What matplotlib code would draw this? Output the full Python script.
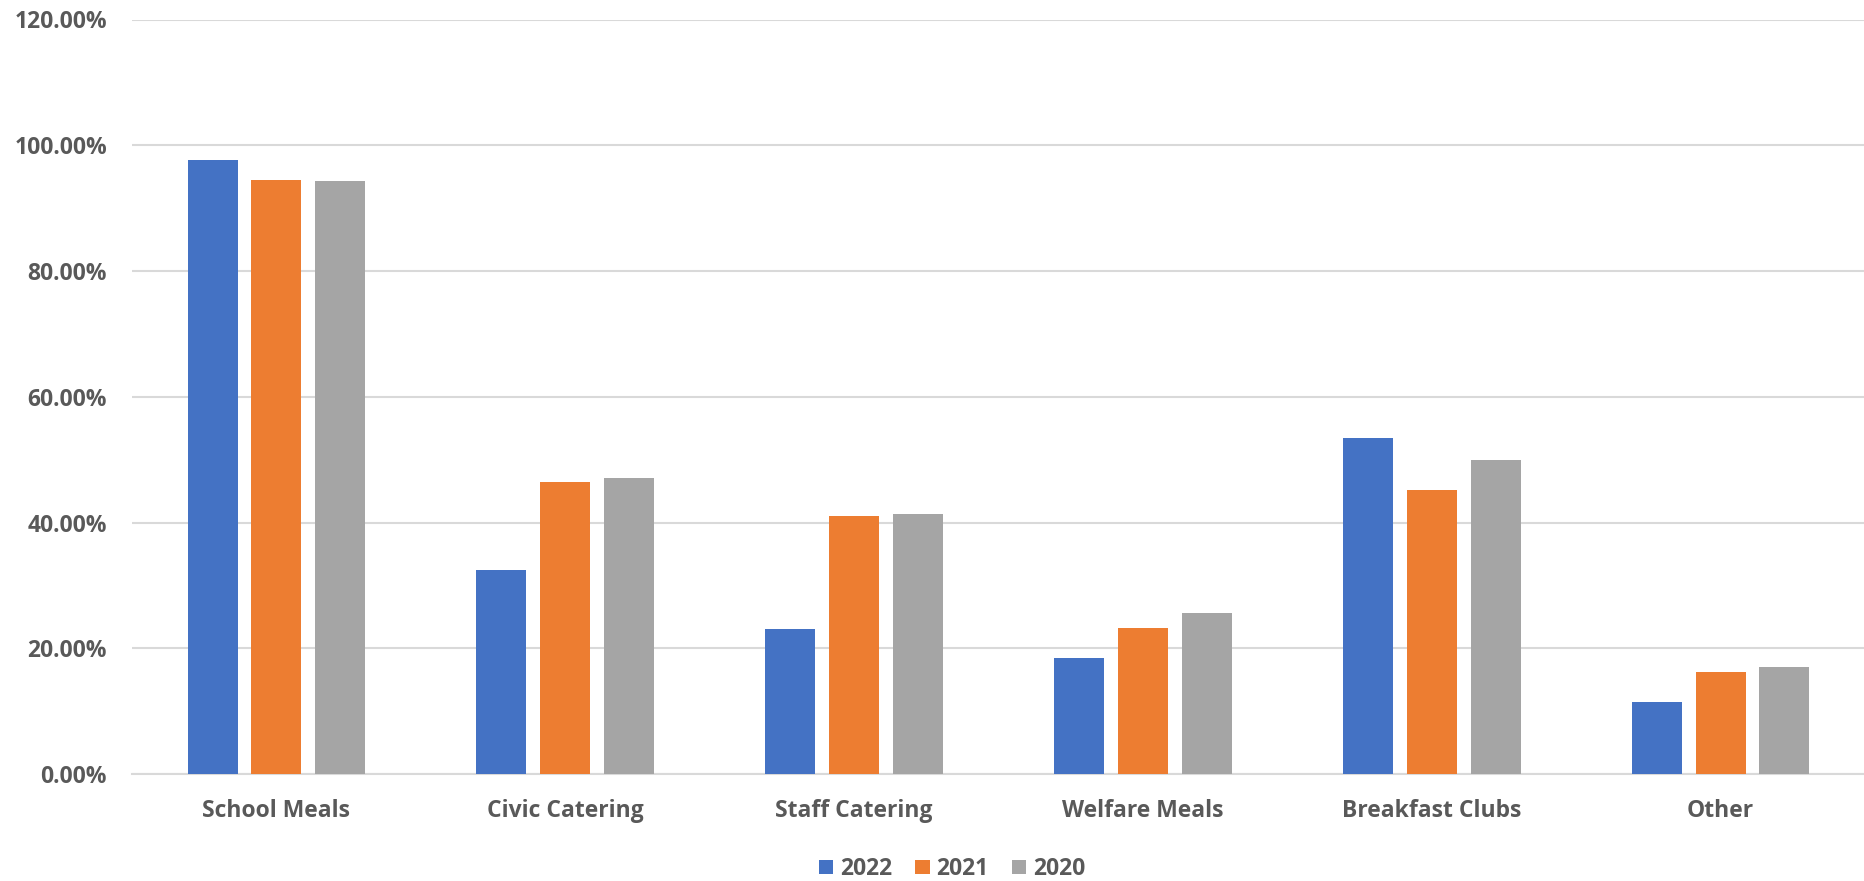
import numpy as np
import matplotlib.pyplot as plt
from matplotlib.ticker import PercentFormatter

# Data (percent)
categories = ['School Meals', 'Civic Catering', 'Staff Catering',
              'Welfare Meals', 'Breakfast Clubs', 'Other']
years = ['2022', '2021', '2020']
vals_2022 = [97.6, 32.5, 23.1, 18.5, 53.4, 11.5]
vals_2021 = [94.5, 46.5, 41.0, 23.2, 45.1, 16.3]
vals_2020 = [94.3, 47.0, 41.3, 25.6, 49.9, 17.0]
colors = ['#4472C4', '#ED7D31', '#A5A5A5']

plt.rcParams['font.family'] = ['Open Sans', 'DejaVu Sans']
plt.rcParams['font.weight'] = 'bold'
txt_color = '#595959'

fig = plt.figure(figsize=(18.65, 8.81), dpi=100)
ax = fig.add_axes([132 / 1865, (881 - 774) / 881, 1 - 132 / 1865, (774 - 19.5) / 881])

x = np.arange(len(categories))
step = 0.221
width = 0.173
series = [vals_2022, vals_2021, vals_2020]
for i, (vals, c, lab) in enumerate(zip(series, colors, years)):
    ax.bar(x + (i - 1) * step, vals, width=width, color=c, label=lab, zorder=3)

ax.set_xlim(-0.5, len(categories) - 0.5)
ax.set_ylim(0, 120)
ax.set_yticks(np.arange(0, 121, 20))
ax.yaxis.set_major_formatter(PercentFormatter(decimals=2))
ax.set_xticks(x)
ax.set_xticklabels(categories)

ax.grid(axis='y', color='#D9D9D9', linewidth=1.5, zorder=0)
ax.set_axisbelow(True)
for s in ['top', 'right', 'left']:
    ax.spines[s].set_visible(False)
ax.spines['bottom'].set_color('#D9D9D9')
ax.spines['bottom'].set_linewidth(1.5)
ax.spines['bottom'].set_zorder(1)

ax.tick_params(axis='both', length=0, labelsize=16.5, labelcolor=txt_color)
ax.tick_params(axis='y', pad=18)
ax.tick_params(axis='x', pad=18)
for t in ax.get_xticklabels() + ax.get_yticklabels():
    t.set_fontweight('bold')

leg = fig.legend(loc='center', bbox_to_anchor=(952 / 1865, 1 - 869 / 881),
                 ncol=3, frameon=False, fontsize=16.5, handlelength=0.63,
                 handleheight=0.6, handletextpad=0.3, columnspacing=1.0)
for t in leg.get_texts():
    t.set_color(txt_color)
    t.set_fontweight('bold')

fig.savefig('out.png', dpi=100)
